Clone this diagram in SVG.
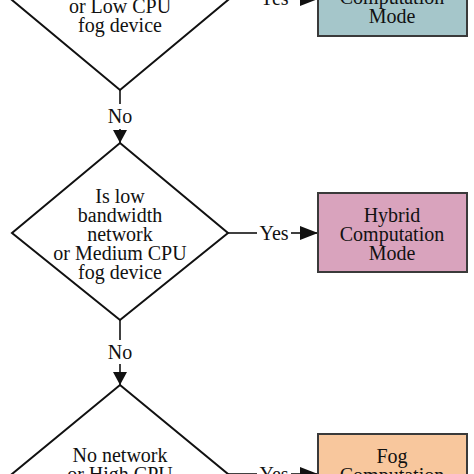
<svg xmlns="http://www.w3.org/2000/svg" width="474" height="474" viewBox="0 0 474 474">
<defs>
<style>
text{font-family:"Liberation Serif","Times New Roman",serif;font-size:20px;fill:#111;text-anchor:middle}
.dia{fill:#fff;stroke:#111;stroke-width:2;stroke-linejoin:miter}
.box{stroke:#3a3a3a;stroke-width:2}
.con{stroke:#111;stroke-width:1.6;fill:none}
</style>
<marker id="ah" markerUnits="userSpaceOnUse" markerWidth="18" markerHeight="14" refX="18" refY="7" orient="auto">
<path d="M0,0 L18,7 L0,14 Z" fill="#111"/>
</marker>
<marker id="av" markerUnits="userSpaceOnUse" markerWidth="13" markerHeight="14" refX="13" refY="7" orient="auto">
<path d="M0,0 L13,7 L0,14 Z" fill="#111"/>
</marker>
</defs>
<rect width="474" height="474" fill="#fff"/>
<g id="connectors">
<line class="con" x1="120" y1="90" x2="120" y2="104"/>
<text x="120" y="123">No</text>
<line class="con" x1="120" y1="129" x2="120" y2="143" marker-end="url(#av)"/>
<line class="con" x1="228" y1="-1" x2="257" y2="-1"/>
<text x="274" y="5">Yes</text>
<line class="con" x1="291" y1="-1" x2="318" y2="-1" marker-end="url(#ah)"/>
<line class="con" x1="228" y1="233" x2="257" y2="233"/>
<text x="274" y="240">Yes</text>
<line class="con" x1="291" y1="233" x2="318" y2="233" marker-end="url(#ah)"/>
<line class="con" x1="120" y1="320" x2="120" y2="340"/>
<text x="120" y="359">No</text>
<line class="con" x1="120" y1="364" x2="120" y2="385" marker-end="url(#av)"/>
<line class="con" x1="228" y1="474" x2="257" y2="474"/>
<text x="274" y="481">Yes</text>
<line class="con" x1="291" y1="474" x2="318" y2="474" marker-end="url(#ah)"/>
</g>
<g id="decision1">
<polygon class="dia" points="120,-90 228,0 120,90 12,0"/>
<text x="120" y="13">or Low CPU</text>
<text x="120" y="32">fog device</text>
</g>
<g id="decision2">
<polygon class="dia" points="120,143 228,233 120,320 12,233"/>
<text x="120" y="203">Is low</text>
<text x="120" y="222">bandwidth</text>
<text x="120" y="241">network</text>
<text x="120" y="260">or Medium CPU</text>
<text x="120" y="279">fog device</text>
</g>
<g id="decision3">
<polygon class="dia" points="120,385 228,474 120,563 12,474"/>
<text x="120" y="462">No network</text>
<text x="120" y="481">or High CPU</text>
</g>
<g id="cloud-mode">
<rect class="box" x="318" y="-42" width="149" height="78" fill="#a5c6ca"/>
<text x="392" y="4">Computation</text>
<text x="392" y="23">Mode</text>
</g>
<g id="hybrid-mode">
<rect class="box" x="318" y="193" width="149" height="79" fill="#d9a3bd"/>
<text x="392" y="222">Hybrid</text>
<text x="392" y="241">Computation</text>
<text x="392" y="260">Mode</text>
</g>
<g id="fog-mode">
<rect class="box" x="318" y="434" width="149" height="79" fill="#f8c79d"/>
<text x="392" y="463">Fog</text>
<text x="392" y="482">Computation</text>
</g>
</svg>
